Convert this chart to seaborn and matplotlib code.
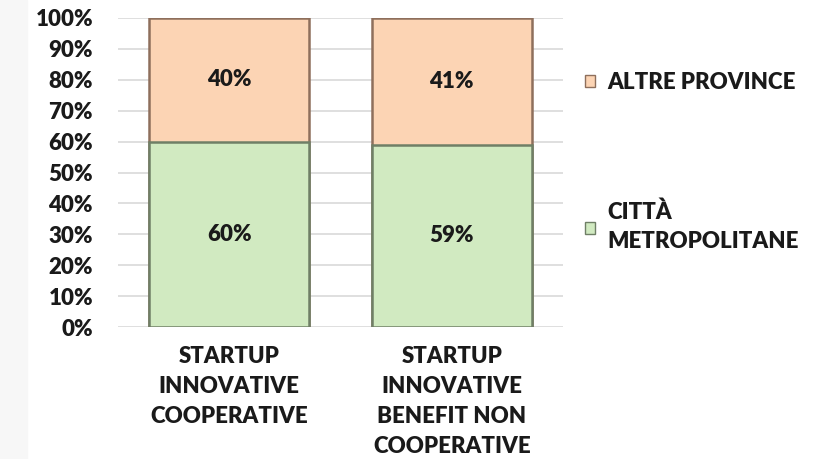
import matplotlib.pyplot as plt
import pandas as pd
import seaborn as sns
from matplotlib.patches import Patch, Rectangle
from matplotlib.ticker import FuncFormatter, MultipleLocator

categories = [
    "STARTUP\nINNOVATIVE\nCOOPERATIVE",
    "STARTUP\nINNOVATIVE\nBENEFIT NON\nCOOPERATIVE",
]
citta_metropolitane = [60, 59]
altre_province = [40, 41]
series_labels = ["ALTRE PROVINCE", "CITTÀ\nMETROPOLITANE"]

GREEN = "#D1EAC1"
ORANGE = "#FCD4B4"
FS = 16
WEIGHT = "heavy"

sns.set_theme(style="white")
plt.rcParams["font.family"] = ["Lato", "DejaVu Sans"]
plt.rcParams["font.weight"] = WEIGHT

df = pd.DataFrame(
    {
        "categoria": categories,
        "citta": citta_metropolitane,
        "altre": altre_province,
    }
)
df["totale"] = df["citta"] + df["altre"]

fig = plt.figure(figsize=(8.28, 4.59), dpi=100)
fig.patches.append(
    Rectangle((0, 0), 27 / 828, 1, transform=fig.transFigure, color="#F7F7F7", zorder=0)
)
ax = fig.add_axes([118 / 828, 1 - 327 / 459, (563 - 118) / 828, (327 - 18) / 459])

sns.barplot(
    data=df, x="categoria", y="totale", color=ORANGE, width=0.72,
    edgecolor="#8E6F5C", linewidth=1.8, saturation=1, ax=ax, zorder=3,
)
sns.barplot(
    data=df, x="categoria", y="citta", color=GREEN, width=0.72,
    edgecolor="#6F7F66", linewidth=1.8, saturation=1, ax=ax, zorder=4,
)

# data labels
for i, (c, a) in enumerate(zip(citta_metropolitane, altre_province)):
    ax.text(i, c / 2, f"{c}%", ha="center", va="center", fontsize=FS,
            fontweight=WEIGHT, color="#1a1a1a", zorder=5)
    ax.text(i, c + a / 2, f"{a}%", ha="center", va="center", fontsize=FS,
            fontweight=WEIGHT, color="#1a1a1a", zorder=5)

ax.set_ylim(0, 100)
ax.set_xlim(-0.5, 1.5)
ax.yaxis.set_major_locator(MultipleLocator(10))
ax.yaxis.set_major_formatter(FuncFormatter(lambda v, p: f"{v:.0f}%"))
ax.grid(axis="y", color="#D9D9D9", linewidth=1.2, zorder=0)
ax.set_axisbelow(True)
for s in ax.spines.values():
    s.set_visible(False)
ax.set_xlabel("")
ax.set_ylabel("")
ax.tick_params(axis="y", length=0, pad=18, labelsize=FS, labelcolor="#1a1a1a")
ax.tick_params(axis="x", length=0, pad=14, labelsize=FS, labelcolor="#1a1a1a")
for lbl in ax.get_yticklabels() + ax.get_xticklabels():
    lbl.set_fontweight(WEIGHT)
for lbl in ax.get_xticklabels():
    lbl.set_linespacing(1.52)

handles = [
    Patch(facecolor=ORANGE, edgecolor="#8E6F5C"),
    Patch(facecolor=GREEN, edgecolor="#6F7F66"),
]
leg = fig.legend(
    handles, series_labels, loc="center left", bbox_to_anchor=(565 / 828, 1 - 162 / 459),
    frameon=False, fontsize=FS, handlelength=0.45, handleheight=0.45,
    handletextpad=0.55, labelspacing=4.9,
)
for t in leg.get_texts():
    t.set_fontweight(WEIGHT)
    t.set_color("#1a1a1a")
    t.set_linespacing(1.48)

fig.savefig("out.png", dpi=100)
